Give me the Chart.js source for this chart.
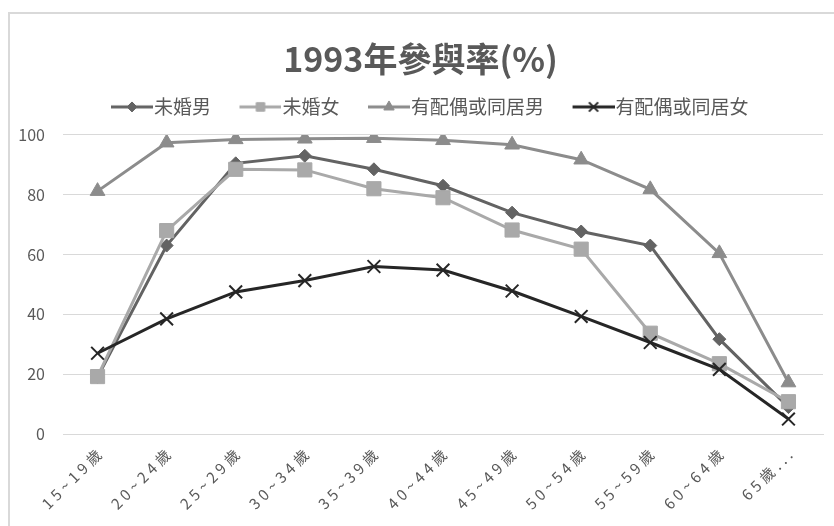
<!DOCTYPE html>
<html>
<head>
<meta charset="utf-8">
<script src="https://cdn.jsdelivr.net/npm/chart.js@4"></script>
<style>
  html, body { margin: 0; padding: 0; background: #fff; overflow: hidden; }
  #wrap { position: relative; width: 834px; height: 526px; }
  #frame { position: absolute; left: 8px; top: 12px; width: 900px; height: 600px;
           border-left: 2px solid #d9d9d9; border-top: 2px solid #d9d9d9; }
  #chart { position: absolute; left: 0; top: 0; }
</style>
</head>
<body>
<div id="wrap">
  <div id="frame"></div>
  <canvas id="chart" width="834" height="526"></canvas>
</div>
<script>
var ageGroups = ['15~19歲', '20~24歲', '25~29歲', '30~34歲', '35~39歲', '40~44歲',
  '45~49歲', '50~54歲', '55~59歲', '60~64歲', '65歲以上'];

var singleMale = [19, 63, 90.5, 93, 88.5, 83, 74, 67.7, 63, 31.7, 9];
var singleFemale = [19.2, 68, 88.5, 88.3, 82, 79, 68.2, 61.8, 33.7, 23.5, 10.8];
var marriedMale = [81.2, 97.4, 98.5, 98.7, 98.9, 98.2, 96.7, 91.7, 81.8, 60.4, 17.2];
var marriedFemale = [27, 38.5, 47.5, 51.3, 56, 54.8, 47.8, 39.3, 30.6, 21.6, 5];

var yTicks = [0, 20, 40, 60, 80, 100];

var textColor = '#595959';
var gridColor = '#d9d9d9';
var fontFamily = '"Noto Sans CJK TC", "Noto Sans", sans-serif';

// legend sample: short line with the marker in its middle
function legendSample(color, style, radius, width) {
  var c = document.createElement('canvas');
  c.width = 69;
  c.height = 20;
  var g = c.getContext('2d');
  g.strokeStyle = color;
  g.fillStyle = color;
  g.lineWidth = 3;
  g.beginPath();
  g.moveTo(c.width - 42, 10);
  g.lineTo(c.width, 10);
  g.stroke();
  g.lineWidth = width;
  Chart.helpers.drawPoint(g, { pointStyle: style, radius: radius, borderWidth: width, rotation: 0 }, c.width - 21, 10);
  return c;
}

function series(label, data, color, style, radius, order, legendRadius, borderWidth) {
  return {
    label: label,
    data: data,
    borderColor: color,
    backgroundColor: color,
    borderWidth: 3,
    tension: 0,
    pointStyle: style,
    pointRadius: radius,
    pointHoverRadius: radius,
    pointBorderWidth: borderWidth,
    pointBackgroundColor: color,
    pointBorderColor: color,
    order: order,
    sample: legendSample(color, style, legendRadius, borderWidth)
  };
}

// keep room between the legend and the plot
var legendGap = {
  id: 'legendGap',
  beforeLayout: function (chart) {
    var legend = chart.legend;
    if (!legend || legend._gapped) return;
    var fit = legend.fit;
    legend.fit = function () {
      fit.call(this);
      this.height += 8.5;
    };
    legend._gapped = true;
  }
};

// wide letter spacing on the category labels
var spacedLabels = {
  id: 'spacedLabels',
  afterLayout: function (chart) {
    var x = chart.scales.x;
    if (!x || x._spaced) return;
    var draw = x.drawLabels;
    x.drawLabels = function (area) {
      this.ctx.save();
      this.ctx.letterSpacing = '4px';
      draw.call(this, area);
      this.ctx.restore();
    };
    x._spaced = true;
  }
};

var ctx = document.getElementById('chart').getContext('2d');

var chart = new Chart(ctx, {
  type: 'line',
  data: {
    labels: ageGroups,
    datasets: [
      series('未婚男', singleMale, '#636363', 'rectRot', 6.5, 4, 5, 1),
      series('未婚女', singleFemale, '#a9a9a9', 'rect', 10, 3, 6, 1),
      series('有配偶或同居男', marriedMale, '#8c8c8c', 'triangle', 8.5, 2, 6, 1),
      series('有配偶或同居女', marriedFemale, '#262626', 'crossRot', 9, 1, 6.5, 2)
    ]
  },
  options: {
    responsive: false,
    animation: false,
    layout: { padding: { left: 16, right: 9, top: 0, bottom: 0 } },
    plugins: {
      title: {
        display: true,
        text: '1993年參與率(%)',
        color: textColor,
        font: { family: fontFamily, size: 34, weight: 'bold', lineHeight: 1.2 },
        padding: { top: 38.6, bottom: 8 }
      },
      legend: {
        display: true,
        position: 'top',
        labels: {
          usePointStyle: true,
          pointStyleWidth: 52,
          padding: 10,
          color: textColor,
          font: { family: fontFamily, size: 19 },
          generateLabels: function (chart) {
            return chart.data.datasets.map(function (ds, i) {
              return {
                text: ds.label,
                fillStyle: ds.borderColor,
                strokeStyle: ds.borderColor,
                fontColor: textColor,
                lineWidth: 0,
                pointStyle: ds.sample,
                hidden: false,
                datasetIndex: i
              };
            });
          }
        }
      },
      tooltip: { enabled: false }
    },
    scales: {
      x: {
        offset: true,
        grid: { display: false, drawTicks: false },
        border: { display: true, color: gridColor, width: 1 },
        ticks: {
          color: textColor,
          font: { family: fontFamily, size: 15 },
          minRotation: 45,
          maxRotation: 45,
          autoSkip: false,
          padding: 9,
          labelOffset: 4,
          callback: function (value, i) {
            var s = ageGroups[i];
            return s.endsWith('以上') ? s.slice(0, 3) + '...' : s;
          }
        },
        afterFit: function (scale) { scale.height = 92; }
      },
      y: {
        min: 0,
        max: 100,
        grid: { color: gridColor, lineWidth: 1, drawTicks: false },
        border: { display: false },
        afterBuildTicks: function (scale) {
          scale.ticks = yTicks.map(function (v) { return { value: v }; });
        },
        ticks: {
          color: textColor,
          font: { family: fontFamily, size: 16 },
          padding: 18
        },
        afterFit: function (scale) { scale.width = 47; }
      }
    }
  },
  plugins: [legendGap, spacedLabels]
});
</script>
</body>
</html>
